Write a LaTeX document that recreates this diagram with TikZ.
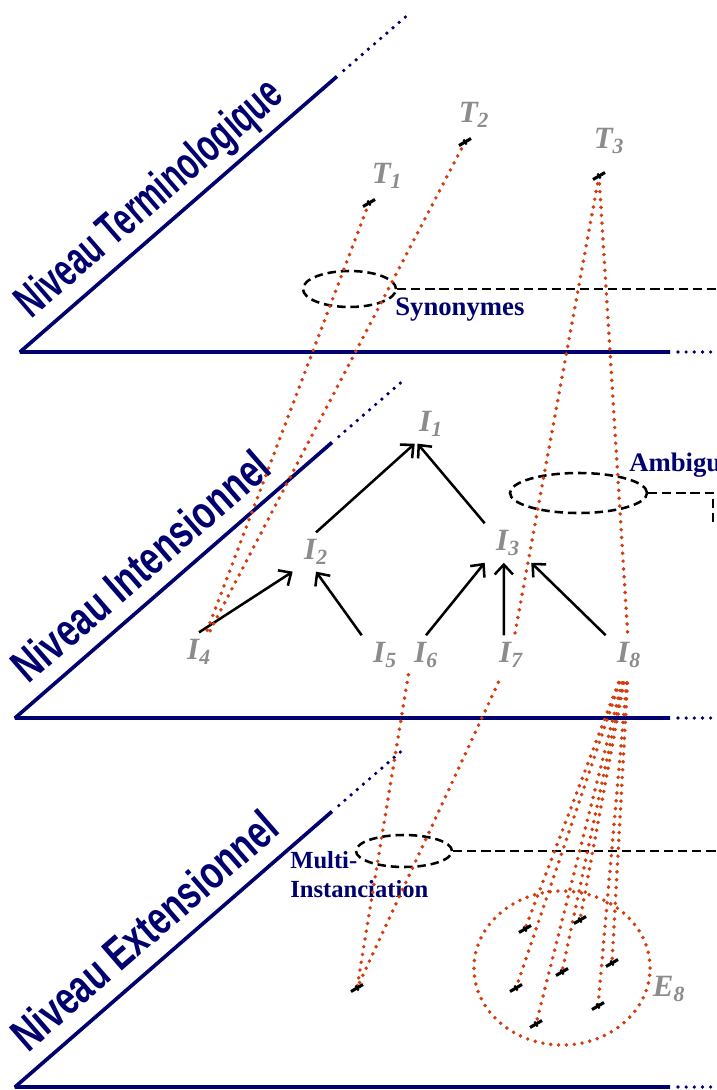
\documentclass[tikz,border=0pt]{standalone}
\usepackage{fontspec}
\usepackage{graphicx}
\setmainfont{Liberation Serif}
\newfontfamily\levelfont{Liberation Sans}
\usetikzlibrary{positioning, calc, shapes.geometric, arrows.meta}

\definecolor{planeblue}{RGB}{0,0,110}
\definecolor{linkred}{RGB}{210,62,14}
\definecolor{labelgray}{RGB}{140,140,140}

\newcommand{\idx}[2]{#1\textsubscript{#2}}

\tikzset{
  plane/.style={planeblue, line width=2.6pt, line join=bevel},
  planedots/.style={planeblue, line width=2.6pt, line cap=round, dash pattern=on 0pt off 5.8pt},
  level/.style={rotate=41, anchor=base west, inner sep=0pt, text=planeblue, font=\levelfont\bfseries\fontsize{33}{35}\selectfont},
  concept/.style={text=labelgray, inner xsep=8pt, inner ysep=5pt, font=\bfseries\itshape\fontsize{22}{24}\selectfont},
  note/.style={anchor=base west, inner sep=0pt, text=planeblue, font=\bfseries\fontsize{19}{21}\selectfont},
  group/.style={ellipse, draw, inner sep=0pt, line width=1.8pt, dash pattern=on 6pt off 3.5pt},
  lead/.style={line width=1.8pt, dash pattern=on 6.5pt off 3.5pt},
  arrow/.style={-{Straight Barb[length=7pt, width=13pt]}, line width=1.8pt},
  link/.style={linkred, line width=2.8pt, line cap=round, dash pattern=on 0pt off 5.6pt},
  tickmark/.pic={
    \draw[line width=2.2pt] (-6,-3.5) -- (6,3.5);
    \draw[line width=1.5pt] (-1.5,2.5) -- (1.5,-2.5);
  },
}

\begin{document}
\begin{tikzpicture}[x=0.025cm, y=0.025cm]
  \useasboundingbox (0,0) rectangle (716,-1090);
  \coordinate (edge) at (716,0);

  % Planes
  \coordinate (pT) at (20,-352);
  \coordinate (pI) at (15,-718);
  \coordinate (pE) at (15,-1087);
  \draw[plane] (670,-352) -- (pT) -- ++(41:420) coordinate (pTtop);
  \draw[plane] (670,-718) -- (pI) -- ++(41:420) coordinate (pItop);
  \draw[plane] (670,-1087) -- (pE) -- ++(41:420) coordinate (pEtop);
  \draw[planedots] (678,-352) -- (714,-352);
  \draw[planedots] (678,-718) -- (714,-718);
  \draw[planedots] (678,-1087) -- (714,-1087);
  \draw[planedots] (pTtop) ++(41:9) -- ++(41:88);
  \draw[planedots] (pItop) ++(41:9) -- ++(41:88);
  \draw[planedots] (pEtop) ++(41:9) -- ++(41:88);

  \node[level] (lvlT) at ($(pT)+(41:30)+(131:17)$) {\scalebox{0.66}[1]{Niveau Terminologique}};
  \node[level] (lvlI) at ($(pI)+(41:32)+(131:16)$) {\scalebox{0.74}[1]{Niveau Intensionnel}};
  \node[level] (lvlE) at ($(pE)+(41:32)+(131:17)$) {\scalebox{0.74}[1]{Niveau Extensionnel}};

  % Terms
  \node[concept] (t1) at (387,-176) {\idx{T}{1}};
  \node[concept] (t2) at (474,-115) {\idx{T}{2}};
  \node[concept] (t3) at (609,-141) {\idx{T}{3}};
  \coordinate (t1m) at (369,-203);
  \coordinate (t2m) at (465,-142);
  \coordinate (t3m) at (599,-176);

  % Intensions
  \node[concept] (i1) at (431,-424) {\idx{I}{1}};
  \node[concept] (i2) at (316,-552) {\idx{I}{2}};
  \node[concept] (i3) at (508,-543) {\idx{I}{3}};
  \node[concept] (i4) at (199,-652) {\idx{I}{4}};
  \node[concept] (i5) at (385,-655) {\idx{I}{5}};
  \node[concept] (i6) at (426,-655) {\idx{I}{6}};
  \node[concept] (i7) at (511,-655) {\idx{I}{7}};
  \node[concept] (i8) at (629,-655) {\idx{I}{8}};

  \draw[arrow] (i2.north) -- ([xshift=5pt]i1.south west);
  \draw[arrow] (i3.north west) -- ([xshift=7pt]i1.south west);
  \draw[arrow] (i4.north) -- (i2.south west);
  \draw[arrow] (i5.north west) -- (i2.south);
  \draw[arrow] (i6.north) -- (i3.south west);
  \draw[arrow] ([xshift=-5pt]i7.north) -- ([xshift=-3pt]i3.south);
  \draw[arrow] (i8.north west) -- (i3.south east);

  % Synonymy, ambiguity, multi-instanciation
  \node[group, minimum width=2.325cm, minimum height=0.9cm] (syn) at (349.5,-289) {};
  \draw[lead] (syn.east) -- (syn.east -| edge);
  \node[note] (synlbl) at (395,-315) {Synonymes};

  \node[group, minimum width=3.425cm, minimum height=1cm] (amb) at (578.5,-493) {};
  \draw[lead] (amb.east) -- ($(amb.east -| edge)+(-3,0)$) -- ++(0,-30);
  \node[note] (amblbl) at (629,-471) {Ambiguïté};

  \node[group, minimum width=2.4cm, minimum height=0.8cm] (multi) at (404,-851) {};
  \draw[lead] (multi.east) -- (multi.east -| edge);
  \node[note, font=\bfseries\fontsize{17.5}{19}\selectfont] (multilbl) at (290,-868) {Multi-};
  \node[note, font=\bfseries\fontsize{17.5}{19}\selectfont] (instlbl) at (290,-897) {Instanciation};

  % Extensions
  \coordinate (e0) at (357,-988);
  \coordinate (m1) at (525,-929);
  \coordinate (m2) at (580,-920);
  \coordinate (m3) at (516,-988);
  \coordinate (m4) at (562,-972);
  \coordinate (m5) at (612,-963);
  \coordinate (m6) at (536,-1024);
  \coordinate (m7) at (598,-1006);
  \node[ellipse, draw=linkred, link, inner sep=0pt, minimum width=4.4cm, minimum height=3.85cm] (e8set) at (562,-968) {};
  \node[concept] (e8) at (669,-989) {\idx{E}{8}};

  % Links between levels
  \draw[link] (t1m) -- (i4);
  \draw[link] (t2m) -- (i4);
  \draw[link] (t3m) -- (i7);
  \draw[link] (t3m) -- (i8);
  \draw[link] (i5.south east) -- (e0);
  \draw[link, shorten <=6pt] (i7) -- (e0);
  \foreach \m in {m1,m2,m3,m4,m5,m6,m7}
    \draw[link, shorten <=6pt] (i8) -- (\m);

  \foreach \p in {t1m,t2m,t3m,e0,m1,m2,m3,m4,m5,m6,m7}
    \pic at (\p) {tickmark};
\end{tikzpicture}
\end{document}
